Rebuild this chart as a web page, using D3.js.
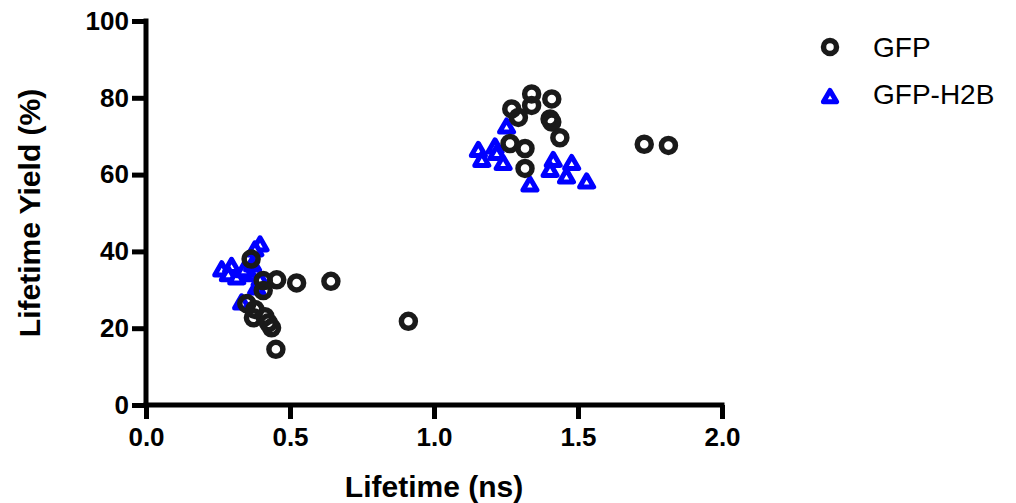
<!DOCTYPE html>
<html>
<head>
<meta charset="utf-8">
<script src="https://cdn.jsdelivr.net/npm/d3@7"></script>
<style>
  body { margin: 0; background: #fff; }
  text { font-family: "Liberation Sans", Arial, sans-serif; }
  .tick-label { font-size: 26px; font-weight: bold; }
  .axis-title { font-size: 30px; font-weight: bold; }
  .legend-text { font-size: 28px; }
</style>
</head>
<body>
<div class="chart"></div>
<script>
// data
var gfpLifetime = [0.365, 0.407, 0.454, 0.523, 0.642, 0.407, 0.35, 0.378, 0.373, 0.413, 0.425, 0.436, 0.451, 0.911,
  1.339, 1.339, 1.27, 1.293, 1.409, 1.403, 1.409, 1.437, 1.264, 1.316, 1.316, 1.73, 1.814];
var gfpYield = [38.0, 32.4, 32.6, 31.8, 32.2, 29.8, 26.4, 24.9, 22.7, 23.0, 21.4, 20.1, 14.5, 21.8,
  81.0, 78.0, 77.1, 74.9, 79.7, 74.5, 73.7, 69.6, 68.1, 66.8, 61.6, 67.9, 67.6];

var h2bLifetime = [0.396, 0.378, 0.263, 0.297, 0.286, 0.315, 0.361, 0.384, 0.332, 0.396, 0.34, 0.37,
  1.252, 1.154, 1.166, 1.212, 1.218, 1.24, 1.414, 1.403, 1.478, 1.46, 1.333, 1.53];
var h2bYield = [41.7, 40.4, 35.2, 36.1, 33.9, 33.1, 33.9, 30.5, 26.6, 32.6, 35.0, 36.5,
  72.4, 66.3, 63.7, 67.2, 65.5, 62.9, 63.7, 61.1, 62.9, 59.4, 57.3, 58.1];

var xTicks = [0, 0.5, 1.0, 1.5, 2.0];
var yTicks = [0, 20, 40, 60, 80, 100];
var seriesNames = ["GFP", "GFP-H2B"];

var svgWidth = 1016;
var svgHeight = 503;

var svg = d3.select(".chart").append("svg")
  .attr("width", svgWidth)
  .attr("height", svgHeight);

var xScale = d3.scaleLinear().domain([0, 2]).range([146, 722]);
var yScale = d3.scaleLinear().domain([0, 100]).range([405, 21]);

// axes
var bottomAxis = d3.axisBottom(xScale).tickValues(xTicks).tickFormat(d3.format(".1f")).tickSize(14).tickPadding(9);
var leftAxis = d3.axisLeft(yScale).tickValues(yTicks).tickFormat(d3.format("d")).tickSize(14).tickPadding(3);

var xg = svg.append("g").attr("transform", "translate(0," + yScale(0) + ")").call(bottomAxis);
var yg = svg.append("g").attr("transform", "translate(" + xScale(0) + ",0)").call(leftAxis);

[xg, yg].forEach(function(g) {
  g.select(".domain").attr("stroke", "#000").attr("stroke-width", 5);
  g.selectAll(".tick line").attr("stroke", "#000").attr("stroke-width", 5);
  g.selectAll(".tick text").attr("class", "tick-label").attr("fill", "#000")
    .style("font-family", "'Liberation Sans', Arial, sans-serif");
});
xg.select(".domain").attr("d", "M" + (xScale(0) - 2.5) + ",0H" + (xScale(2) + 2.5));
yg.select(".domain").attr("d", "M0," + (yScale(100) - 2.5) + "V" + (yScale(0) + 2.5));

// axis titles
svg.append("text")
  .attr("class", "axis-title")
  .attr("text-anchor", "middle")
  .attr("x", (xScale(0) + xScale(2)) / 2)
  .attr("y", 497)
  .text("Lifetime (ns)");

svg.append("text")
  .attr("class", "axis-title")
  .attr("text-anchor", "middle")
  .attr("transform", "translate(40," + (yScale(50)) + ") rotate(-90)")
  .text("Lifetime Yield (%)");

// points
var triangle = d3.symbol().type(d3.symbolTriangle).size(85);

svg.append("g").selectAll("path")
  .data(h2bLifetime.map(function(d, i) { return [d, h2bYield[i]]; }))
  .enter().append("path")
  .attr("d", triangle)
  .attr("transform", function(d) { return "translate(" + xScale(d[0]) + "," + (yScale(d[1]) + 1) + ")"; })
  .attr("fill", "#fff")
  .attr("stroke", "#0000ff")
  .attr("stroke-width", 5)
  .attr("stroke-linejoin", "round");

svg.append("g").selectAll("circle")
  .data(gfpLifetime.map(function(d, i) { return [d, gfpYield[i]]; }))
  .enter().append("circle")
  .attr("cx", function(d) { return xScale(d[0]); })
  .attr("cy", function(d) { return yScale(d[1]); })
  .attr("r", 7)
  .attr("fill", "none")
  .attr("stroke", "#1a1a1a")
  .attr("stroke-width", 5.5);

// legend
var legend = svg.append("g");
legend.append("circle")
  .attr("cx", 830).attr("cy", 47).attr("r", 6.5)
  .attr("fill", "none").attr("stroke", "#1a1a1a").attr("stroke-width", 5.5);
legend.append("path")
  .attr("d", d3.symbol().type(d3.symbolTriangle).size(75))
  .attr("transform", "translate(830,98)")
  .attr("fill", "#fff").attr("stroke", "#0000ff").attr("stroke-width", 5)
  .attr("stroke-linejoin", "round");
legend.selectAll("text")
  .data(seriesNames)
  .enter().append("text")
  .attr("class", "legend-text")
  .attr("x", 873)
  .attr("y", function(d, i) { return 57 + i * 47; })
  .text(function(d) { return d; });
</script>
</body>
</html>
